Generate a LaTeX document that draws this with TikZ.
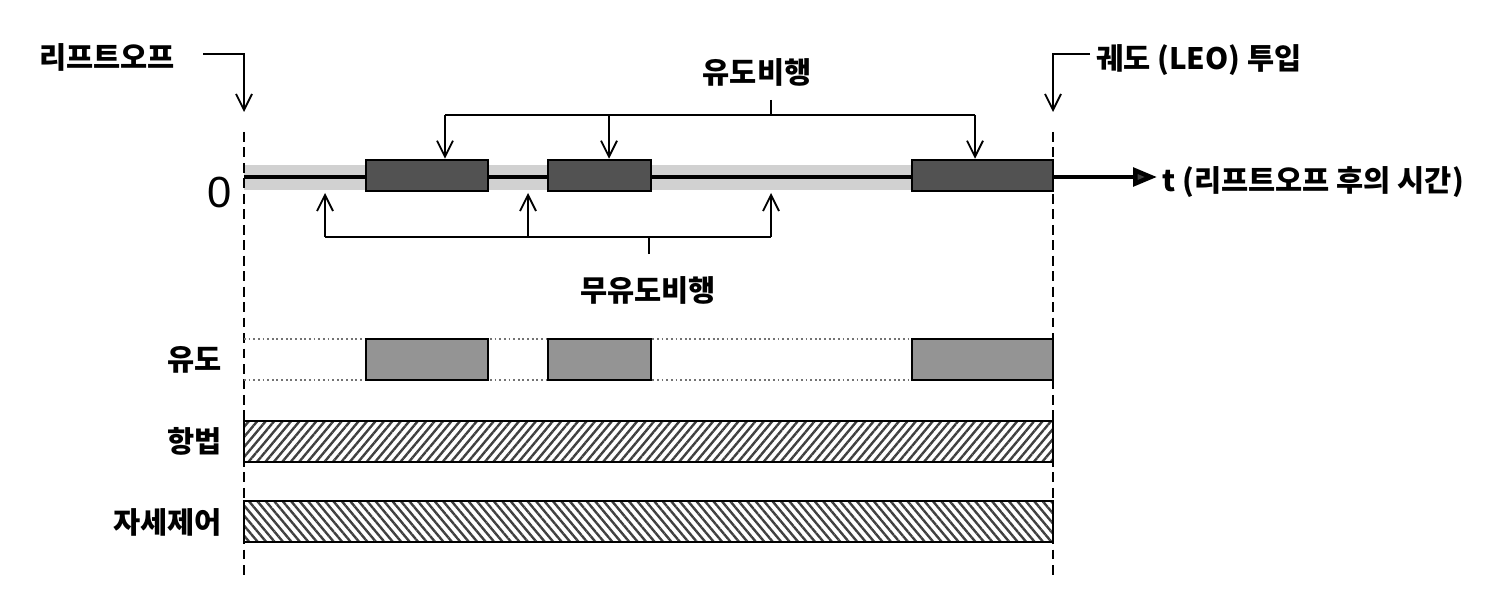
\documentclass[tikz,border=0pt]{standalone}
\usepackage{fontspec}
\newfontfamily\krfont{Noto Sans CJK KR}
\newfontfamily\numfont{Liberation Sans}
\usetikzlibrary{arrows.meta,patterns.meta,fit}
\tikzset{
  lbl/.style={font=\krfont\bfseries\fontsize{21}{23}\selectfont,inner sep=0pt},
  guideline/.style={line width=1.4pt,dash pattern=on 7pt off 4pt},
  callout/.style={-{Straight Barb[length=4mm,width=4mm,line width=1.3pt]},line width=1.4pt},
  bracket/.style={line width=1.4pt},
  burnbox/.style={draw=black,line width=1.8pt,fill=black!68,inner sep=0pt},
  guidbox/.style={draw=black,line width=1.4pt,fill=black!42,inner sep=0pt},
  navbar/.style={draw=black,line width=1.5pt,pattern={Lines[angle=50,distance=4.6pt,line width=1.7pt]},pattern color=black!75},
  attbar/.style={draw=black,line width=1.5pt,pattern={Lines[angle=-50,distance=4.6pt,line width=1.7pt]},pattern color=black!75}
}
\begin{document}
\begin{tikzpicture}[x=0.025cm,y=-0.025cm]
  \useasboundingbox (0,0) rectangle (1485,597);
  \fill[black!18] (244,165) rectangle (1053,190);
  \node[lbl] (lift) at (107,57) {리프트오프};
  \node[lbl,anchor=west] (leo) at (1096,60) {궤도 (LEO) 투입};
  \node[lbl] (guided) at (757,72) {유도비행};
  \node[lbl] (coast) at (648,290) {무유도비행};
  \node[font=\numfont\fontsize{31}{33}\selectfont,inner sep=0pt] (zero) at (220,192) {0};
  \node[lbl,anchor=east] (rowg) at (222,360) {유도};
  \node[lbl,anchor=east] (rown) at (222,441) {항법};
  \node[lbl,anchor=east] (rowa) at (222,522) {자세제어};
  \coordinate (t0top) at (244,132);
  \coordinate (t0bot) at (244,580);
  \coordinate (t1top) at (1053,132);
  \coordinate (t1bot) at (1053,580);
  \draw[guideline] (t0top) -- (t0bot);
  \draw[guideline] (t1top) -- (t1bot);
  \coordinate (axstart) at (244,177);
  \coordinate (axend) at (1157,177);
  \draw[line width=3.2pt,-{Triangle[length=6mm,width=4.6mm,fill=black!75]}] (axstart) -- (axend);
  \node[lbl,anchor=west] (taxis) at (1162,182) {t (리프트오프 후의 시간)};
  \node[burnbox,fit={(366,160) (488,191)}] (b1) {};
  \node[burnbox,fit={(548,160) (651,191)}] (b2) {};
  \node[burnbox,fit={(912,160) (1053,191)}] (b3) {};
  \coordinate (liftA) at (203,54);
  \coordinate (liftB) at (244,54);
  \coordinate (liftC) at (244,112);
  \draw[callout] (liftA) -- (liftB) -- (liftC);
  \coordinate (leoA) at (1090,54);
  \coordinate (leoB) at (1053,54);
  \coordinate (leoC) at (1053,112);
  \draw[callout] (leoA) -- (leoB) -- (leoC);
  \coordinate (gtick) at (771,100);
  \coordinate (gmid) at (771,115);
  \coordinate (gl) at (445,115);
  \coordinate (gm) at (609,115);
  \coordinate (gr) at (975,115);
  \draw[bracket] (gtick) -- (gmid);
  \draw[bracket] (gl) -- (gr);
  \draw[callout] (gl) -- (gl |- b1.north);
  \draw[callout] (gm) -- (gm |- b2.north);
  \draw[callout] (gr) -- (gr |- b3.north);
  \coordinate (ctick) at (649,254);
  \coordinate (cmid) at (649,237);
  \coordinate (cl) at (325,237);
  \coordinate (cm) at (528,237);
  \coordinate (cr) at (771,237);
  \draw[bracket] (ctick) -- (cmid);
  \draw[bracket] (cl) -- (cr);
  \draw[callout] (cl) -- (325,193);
  \draw[callout] (cm) -- (528,193);
  \draw[callout] (cr) -- (771,193);
  \draw[dotted,line width=1.3pt,black!55] (244,339) -- (1053,339);
  \draw[dotted,line width=1.3pt,black!55] (244,380) -- (1053,380);
  \node[guidbox,fit={(366,339) (488,380)}] (g1) {};
  \node[guidbox,fit={(548,339) (651,380)}] (g2) {};
  \node[guidbox,fit={(912,339) (1053,380)}] (g3) {};
  \draw[navbar] (244,421) rectangle (1053,462);
  \draw[attbar] (244,501) rectangle (1053,542);
\end{tikzpicture}
\end{document}
